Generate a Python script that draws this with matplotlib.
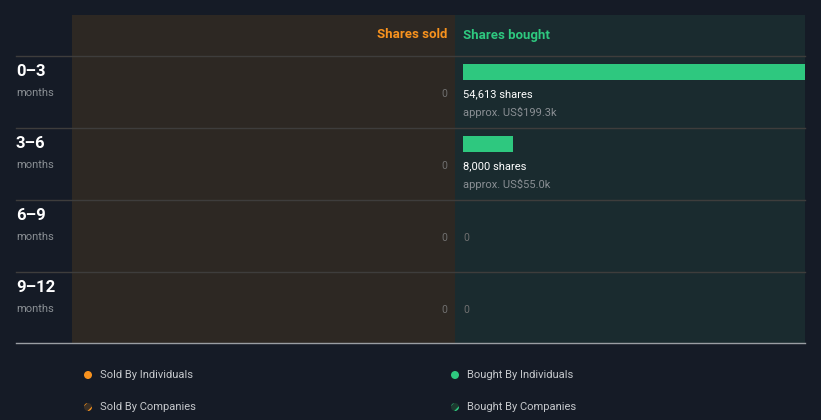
import matplotlib.pyplot as plt
from matplotlib.patches import Rectangle, Circle

plt.rcParams['font.family'] = ['Roboto', 'DejaVu Sans']

# data
periods = ['0\u20133', '3\u20136', '6\u20139', '9\u201312']
sold_shares = [0, 0, 0, 0]
bought_shares = [54613, 8000, 0, 0]
bought_value = ['approx. US$199.3k', 'approx. US$55.0k', '', '']
legend_labels = ['Sold By Individuals', 'Bought By Individuals',
                 'Sold By Companies', 'Bought By Companies']

# colours
BG = '#151b26'
SOLD_BG = '#2d2823'
BOUGHT_BG = '#1a2b2f'
ORANGE = '#f7921e'
GREEN = '#2ec87f'
GRID = '#3e3d3c'
GREY = '#8a8f94'
W, H = 821, 420

fig = plt.figure(figsize=(W / 100, H / 100), dpi=100, facecolor=BG)

# layout axes in pixel units
lay = fig.add_axes([0, 0, 1, 1])
lay.set_xlim(0, W)
lay.set_ylim(H, 0)
lay.axis('off')

lay.add_patch(Rectangle((72, 15), 383, 328, color=SOLD_BG, lw=0))
lay.add_patch(Rectangle((455, 15), 350, 328, color=BOUGHT_BG, lw=0))

row_top = 56
row_h = 72
for i in range(len(periods)):
    y0 = row_top + i * row_h
    lay.plot([16, 805], [y0, y0], color=GRID, lw=1)
    lay.text(16, y0 + 16, periods[i], color='white', fontsize=12,
             fontweight='bold', va='center', ha='left')
    lay.text(16, y0 + 37, 'months', color=GREY, fontsize=8,
             va='center', ha='left')
    lay.text(447, y0 + 38, f'{sold_shares[i]:,}' if sold_shares[i] else '0',
             color='#707070', fontsize=7.5, va='center', ha='right')
lay.plot([16, 805], [343, 343], color='#9a9ea3', lw=1)

lay.text(447, 35, 'Shares sold', color=ORANGE, fontsize=9.5,
         fontweight='bold', va='center', ha='right')
lay.text(463, 35, 'Shares bought', color=GREEN, fontsize=9.5,
         fontweight='bold', va='center', ha='left')

# bars for shares bought
ax = fig.add_axes([463 / W, (H - 344) / H, (805 - 463) / W, (344 - 56) / H])
ax.set_xlim(0, max(bought_shares))
ax.set_ylim(len(periods), 0)
ax.axis('off')
ypos = [i + 16 / row_h for i in range(len(periods))]
ax.barh(ypos, bought_shares, height=16 / row_h, color=GREEN, align='center')
for i, v in enumerate(bought_shares):
    if v > 0:
        ax.text(0, i + 38 / row_h, f'{v:,} shares', color='white',
                fontsize=8, va='center', ha='left')
        ax.text(0, i + 56 / row_h, bought_value[i], color=GREY,
                fontsize=8, va='center', ha='left')
    else:
        ax.text(0, i + 38 / row_h, '0', color='#707070',
                fontsize=7.5, va='center', ha='left')

# legend
leg_pos = [(88, 375), (455, 375), (88, 407), (455, 407)]
leg_col = [ORANGE, GREEN, ORANGE, GREEN]
plt.rcParams['hatch.linewidth'] = 1.5
for k, (lx, ly) in enumerate(leg_pos):
    if k < 2:
        lay.add_patch(Circle((lx, ly), 4, color=leg_col[k], lw=0))
    else:
        plt.rcParams['hatch.color'] = leg_col[k]
        lay.add_patch(Circle((lx, ly), 4, facecolor='#3a3026' if k == 2 else '#1d3a30',
                             edgecolor=leg_col[k], hatch='///', lw=0))
    lay.text(lx + 12, ly, legend_labels[k], color='#c5c8cc', fontsize=8,
             va='center', ha='left')

fig.savefig('out.png', dpi=100, facecolor=BG)
